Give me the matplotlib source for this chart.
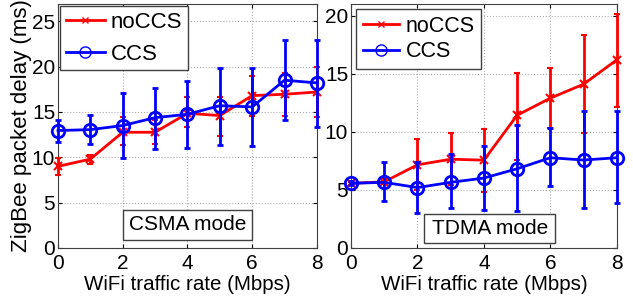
import numpy as np
import matplotlib
matplotlib.use("Agg")
import matplotlib.pyplot as plt
from matplotlib.lines import Line2D
from matplotlib.patches import Rectangle

plt.rcParams['font.family'] = ['Liberation Sans', 'DejaVu Sans']
plt.rcParams['font.size'] = 15

rate = [0, 1, 2, 3, 4, 5, 6, 7, 8]

# CSMA mode (left)
csma_noccs = [9.0, 9.8, 12.76, 12.76, 14.85, 14.6, 16.8, 16.95, 17.2]
csma_noccs_lo = [8.05, 9.3, 11.3, 11.5, 13.3, 12.3, 14.55, 14.6, 14.4]
csma_noccs_hi = [9.95, 10.2, 14.4, 14.1, 16.6, 16.6, 18.95, 19.3, 20.0]
csma_ccs = [12.95, 13.05, 13.5, 14.37, 14.74, 15.69, 15.55, 18.5, 18.2]
csma_ccs_lo = [11.7, 11.45, 9.9, 10.9, 11.05, 11.4, 11.27, 14.1, 13.3]
csma_ccs_hi = [14.15, 14.65, 17.1, 17.65, 18.4, 19.87, 19.86, 22.98, 22.98]

# TDMA mode (right)
tdma_noccs = [5.56, 5.7, 7.16, 7.64, 7.56, 11.43, 12.9, 14.1, 16.2]
tdma_noccs_lo = [5.4, 5.5, 4.95, 5.4, 4.85, 7.6, 10.35, 9.9, 12.15]
tdma_noccs_hi = [5.7, 5.9, 9.37, 9.94, 10.2, 15.1, 15.45, 18.35, 20.1]
tdma_ccs = [5.57, 5.65, 5.2, 5.65, 6.02, 6.82, 7.77, 7.57, 7.77]
tdma_ccs_lo = [5.4, 4.08, 2.99, 3.42, 3.3, 3.15, 5.33, 3.42, 3.85]
tdma_ccs_hi = [5.75, 7.36, 7.39, 8.05, 8.75, 10.55, 10.3, 11.83, 11.83]


def yerr(mean, lo, hi):
    mean = np.array(mean)
    return [mean - np.array(lo), np.array(hi) - mean]


def draw_panel(ax, noccs, noccs_lo, noccs_hi, ccs, ccs_lo, ccs_hi, ymax, yticks,
               mode, box, leg_kw):
    ax.errorbar(rate, noccs, yerr=yerr(noccs, noccs_lo, noccs_hi), color='red',
                marker='x', markersize=6, mew=1.5, lw=2, elinewidth=2, capsize=2.5,
                capthick=2, clip_on=False, zorder=3)
    ax.errorbar(rate, ccs, yerr=yerr(ccs, ccs_lo, ccs_hi), color='blue',
                marker='o', markersize=9, mfc='none', mew=2, lw=2, elinewidth=2,
                capsize=2.5, capthick=2, clip_on=False, zorder=4)
    ax.set_xlim(0, 8)
    ax.set_ylim(0, ymax)
    ax.set_xticks([0, 2, 4, 6, 8])
    ax.set_yticks(yticks)
    ax.tick_params(direction='in', top=True, right=True, length=3, pad=2)
    ax.tick_params(axis='x', pad=4)
    ax.grid(True, linestyle=':', color='#b0b0b0', lw=0.8)
    for s in ax.spines.values():
        s.set_color('#404040')
    ax.set_xlabel('WiFi traffic rate (Mbps)', fontsize=14.8, labelpad=1.5)

    handles = [Line2D([], [], color='red', lw=2, marker='x', ms=5, mew=1),
               Line2D([], [], color='blue', lw=2, marker='o', ms=8, mew=1, mfc='none')]
    leg = ax.legend(handles, ['noCCS', 'CCS'], loc='upper left', numpoints=1,
                    fancybox=False, **leg_kw)
    leg.get_frame().set_edgecolor('#404040')
    leg.get_frame().set_linewidth(1.0)
    leg.get_frame().set_alpha(1)
    leg.set_zorder(6)

    # annotation box with the mode name
    x0, x1, y0, y1 = box
    ax.add_patch(Rectangle((x0, y0), x1 - x0, y1 - y0, fc='white', ec='#404040',
                           lw=1, zorder=5))
    ax.text((x0 + x1) / 2, (y0 + y1) / 2, mode, ha='center', va='center',
            fontsize=15, zorder=6)


fig = plt.figure(figsize=(6.33, 2.99), dpi=100)
ax1 = fig.add_axes([0.0916, 0.1706, 0.409, 0.816])
ax2 = fig.add_axes([0.5545, 0.1706, 0.420, 0.816])

draw_panel(ax1, csma_noccs, csma_noccs_lo, csma_noccs_hi, csma_ccs, csma_ccs_lo, csma_ccs_hi,
           26.9, [0, 5, 10, 15, 20, 25], 'CSMA mode', (2, 6, 0.88, 4.2),
           dict(fontsize=16, handlelength=1.75, handletextpad=0.27, borderpad=0.25,
                borderaxespad=0.1, labelspacing=0.5))
draw_panel(ax2, tdma_noccs, tdma_noccs_lo, tdma_noccs_hi, tdma_ccs, tdma_ccs_lo, tdma_ccs_hi,
           21, [0, 5, 10, 15, 20], 'TDMA mode', (2.2, 6.15, 0.4, 2.93),
           dict(fontsize=15.5, handlelength=1.7, handletextpad=0.3, borderpad=0.3,
                borderaxespad=0.25, labelspacing=0.2))
ax1.set_ylabel('ZigBee packet delay (ms)', fontsize=16, labelpad=0)

fig.savefig('out.png', dpi=100)
